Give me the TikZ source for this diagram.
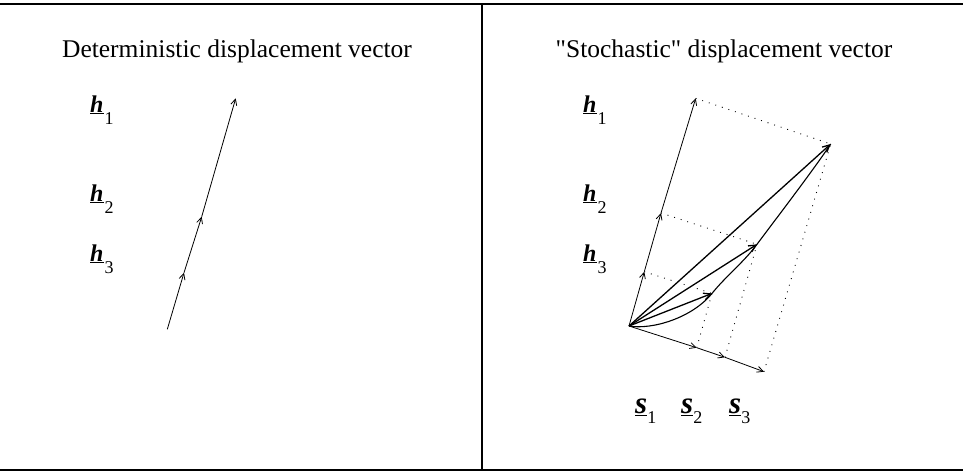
\documentclass[tikz,border=0pt]{standalone}
\usepackage{fontspec}
\setmainfont{Liberation Serif}
\usetikzlibrary{arrows.meta}
\newcommand\hlab[1]{{\fontsize{24}{26}\selectfont\underline{\textbf{\textit{h}}}}\kern1pt\raisebox{-12pt}{\fontsize{18}{18}\selectfont #1}}
\newcommand\slab[1]{{\fontsize{31}{33}\selectfont\underline{\textbf{\textit{s}}}}\raisebox{-10pt}{\fontsize{18}{18}\selectfont #1}}
\begin{document}
\begin{tikzpicture}[x=1pt,y=-1pt,
  frame/.style={line width=1.6pt},
  axis/.style={line width=0.8pt,-{Straight Barb[length=6pt,width=6pt]}},
  vec/.style={line width=1.3pt,-{Straight Barb[length=7pt,width=7pt]}},
  curv/.style={line width=1.1pt},
  proj/.style={line width=0.9pt,dash pattern=on 0.9pt off 6pt},
  ttl/.style={font=\fontsize{25.5}{28}\selectfont,anchor=base,inner sep=0pt},
  lab/.style={anchor=base west,inner sep=0pt}]
\useasboundingbox (0,0) rectangle (963,472);
% frame
\coordinate (TL) at (0,4);
\coordinate (TR) at (963,4);
\coordinate (BL) at (0,470);
\coordinate (BR) at (963,470);
\coordinate (DT) at (482,4);
\coordinate (DB) at (482,470);
\draw[frame] (TL) -- (TR);
\draw[frame] (BL) -- (BR);
\draw[frame] (DT) -- (DB);
% titles
\node[ttl] (t1) at (237,57) {Deterministic displacement vector};
\node[ttl] (t2) at (724,57) {\textquotedbl Stochastic\textquotedbl{} displacement vector};
% left panel
\node[lab] (lh1) at (90,112) {\hlab{1}};
\node[lab] (lh2) at (90,201) {\hlab{2}};
\node[lab] (lh3) at (90,261) {\hlab{3}};
\coordinate (A) at (167.3,329.3);
\coordinate (M3) at (184,272.7);
\coordinate (M2) at (201.7,216.7);
\coordinate (B1) at (235.7,98.3);
\draw[axis] (A) -- (M3);
\draw[axis] (M3) -- (M2);
\draw[axis] (M2) -- (B1);
% right panel
\node[lab] (rh1) at (583,112) {\hlab{1}};
\node[lab] (rh2) at (583,201) {\hlab{2}};
\node[lab] (rh3) at (583,261) {\hlab{3}};
\node[lab] (rs1) at (635,413) {\slab{1}};
\node[lab] (rs2) at (681,413) {\slab{2}};
\node[lab] (rs3) at (729,413) {\slab{3}};
\coordinate (O) at (629,326);
\coordinate (H3) at (644.3,271.7);
\coordinate (H2) at (661,213);
\coordinate (H1) at (695.7,98.3);
\coordinate (S1) at (696.7,347.7);
\coordinate (S2) at (725,357.3);
\coordinate (S3) at (764,371.7);
\coordinate (Q1) at (712,293.4);
\coordinate (Q2) at (757,244.3);
\coordinate (P) at (830.7,144);
% projections
\draw[proj] (H3) -- (Q1);
\draw[proj] (H2) -- (Q2);
\draw[proj] (H1) -- (P);
\draw[proj] (S1) -- (Q1);
\draw[proj] (S2) -- (Q2);
\draw[proj] (S3) -- (P);
% axes
\draw[axis] (O) -- (H3);
\draw[axis] (H3) -- (H2);
\draw[axis] (H2) -- (H1);
\draw[axis] (O) -- (S1);
\draw[axis] (S1) -- (S2);
\draw[axis] (S2) -- (S3);
% curved path
\draw[curv] (O) .. controls (652,330) and (692,318) .. (Q1)
  .. controls (726,276) and (744,262) .. (Q2)
  .. controls (772,224) and (812,172) .. (P);
% straight vectors
\draw[vec] (O) -- (Q1);
\draw[vec] (O) -- (Q2);
\draw[vec] (O) -- (P);
\end{tikzpicture}
\end{document}
